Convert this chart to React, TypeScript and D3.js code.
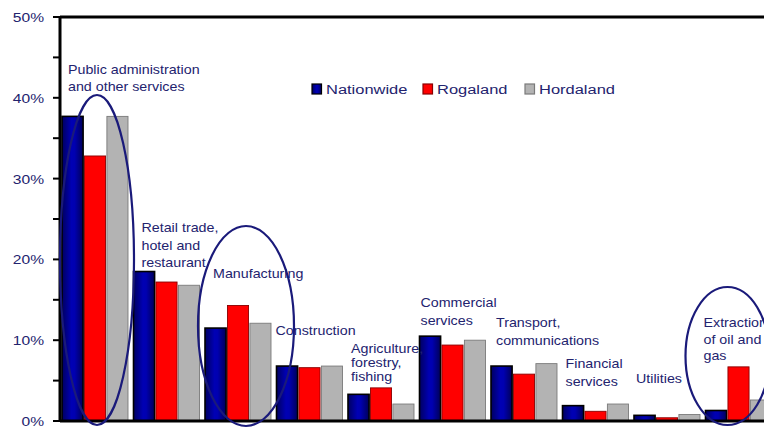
import React from "react";
import * as d3 from "d3";

const categories = [
  "Public administration and other services",
  "Retail trade, hotel and restaurant",
  "Manufacturing",
  "Construction",
  "Agriculture, forestry, fishing",
  "Commercial services",
  "Transport, communications",
  "Financial services",
  "Utilities",
  "Extraction of oil and gas",
];
const seriesNames = ["Nationwide", "Rogaland", "Hordaland"];
const nationwide = [37.7, 18.5, 11.5, 6.8, 3.3, 10.5, 6.8, 1.9, 0.7, 1.3];
const rogaland = [32.8, 17.2, 14.3, 6.6, 4.1, 9.4, 5.8, 1.2, 0.4, 6.7];
const hordaland = [37.7, 16.8, 12.1, 6.8, 2.1, 10.0, 7.1, 2.1, 0.8, 2.6];
const yTicks = [0, 10, 20, 30, 40, 50];
const yMinorTicks = [0, 5, 10, 15, 20, 25, 30, 35, 40, 45, 50];

// category label lines (text)
const labelLines = [
  ["Public administration", "and other services"],
  ["Retail trade,", "hotel and", "restaurant"],
  ["Manufacturing"],
  ["Construction"],
  ["Agriculture,", "forestry,", "fishing"],
  ["Commercial", "services"],
  ["Transport,", "communications"],
  ["Financial", "services"],
  ["Utilities"],
  ["Extraction", "of oil and", "gas"],
];
// label layout: dx from group start, first baseline y, line gap
const labelLayout = [
  { dx: 6, y: 74, gap: 17 },
  { dx: 8, y: 232, gap: 17.5 },
  { dx: 8, y: 278, gap: 17 },
  { dx: -1, y: 335, gap: 17 },
  { dx: 3, y: 353, gap: 14 },
  { dx: 1, y: 307, gap: 18 },
  { dx: 5, y: 327, gap: 18 },
  { dx: 3, y: 368, gap: 18 },
  { dx: 2, y: 383, gap: 17 },
  { dx: -2, y: 327, gap: 16.5 },
];
const circled = [
  { idx: 0, dx: 35, cy: 260, rx: 37, ry: 165 },
  { idx: 2, dx: 41, cy: 326, rx: 48, ry: 100 },
  { idx: 9, dx: 22, cy: 356, rx: 42, ry: 69 },
];

const colors = ["url(#navyGrad)", "#ff0000", "#b3b3b3"];
const strokes = ["#000000", "#8a0000", "#7a7a7a"];
const textColor = "#23236e";
const font = "'Liberation Sans', Arial, sans-serif";

export default function App() {
  const W = 764;
  const H = 433;
  const axisX = 60;
  const y = d3.scaleLinear().domain([0, 50]).range([421, 17]);
  const x0 = d3.scaleBand<string>().domain(categories).range([62, 62 + 71.5 * 10]).padding(0);
  const x1 = d3.scaleBand<string>().domain(seriesNames).range([0, 66]).paddingInner(0.06);
  const data = [nationwide, rogaland, hordaland];

  return (
    <svg width={W} height={H} style={{ position: "absolute", left: 0, top: 0, background: "#fff" }}>
      <defs>
        <linearGradient id="navyGrad" x1="0" x2="1" y1="0" y2="0">
          <stop offset="0" stopColor="#000060" />
          <stop offset="0.45" stopColor="#0000b4" />
          <stop offset="0.6" stopColor="#0000b0" />
          <stop offset="1" stopColor="#000058" />
        </linearGradient>
      </defs>
      {/* bars */}
      {categories.map((c, i) => (
        <g key={c}>
          {seriesNames.map((s, j) => {
            const v = data[j][i];
            return (
              <rect
                key={s}
                x={(x0(c) as number) + (x1(s) as number)}
                y={y(v)}
                width={x1.bandwidth()}
                height={y(0) - y(v)}
                fill={colors[j]}
                stroke={strokes[j]}
                strokeWidth={j === 0 ? 1.6 : 0.9}
              />
            );
          })}
        </g>
      ))}
      {/* axes */}
      <line x1={axisX} x2={W} y1={y(50)} y2={y(50)} stroke="#000" strokeWidth={3} />
      <line x1={axisX} x2={W} y1={y(0)} y2={y(0)} stroke="#000" strokeWidth={3} />
      <line x1={axisX} x2={axisX} y1={y(50) - 1} y2={y(0) + 1} stroke="#000" strokeWidth={3} />
      {yMinorTicks.map((t) => (
        <line key={t} x1={axisX - 7} x2={axisX} y1={y(t)} y2={y(t)} stroke="#000" strokeWidth={2} />
      ))}
      {yTicks.map((t) => (
        <text
          key={t}
          transform={`translate(44,${y(t) + 5}) scale(1.2,1)`}
          textAnchor="end"
          fontFamily={font}
          fontSize={13}
          fill={textColor}
        >
          {t}%
        </text>
      ))}
      {/* category labels */}
      {categories.map((c, i) => (
        <g key={"l" + c}>
          {labelLines[i].map((ln, k) => (
            <text
              key={k}
              transform={`translate(${(x0(c) as number) + labelLayout[i].dx},${labelLayout[i].y + k * labelLayout[i].gap}) scale(1.19,1)`}
              fontFamily={font}
              fontSize={12}
              fill={textColor}
            >
              {ln}
            </text>
          ))}
        </g>
      ))}
      {/* ellipses */}
      {circled.map((e) => (
        <ellipse
          key={e.idx}
          cx={(x0(categories[e.idx]) as number) + e.dx}
          cy={e.cy}
          rx={e.rx}
          ry={e.ry}
          fill="none"
          stroke="#1a1a7a"
          strokeWidth={2.2}
        />
      ))}
      {/* legend */}
      {seriesNames.map((s, j) => {
        const lx = [312, 423, 525][j];
        return (
          <g key={"lg" + s}>
            <rect x={lx} y={84} width={9.5} height={10} fill={colors[j]} stroke={j === 0 ? "#000" : strokes[j]} strokeWidth={1.2} />
            <text
              transform={`translate(${lx + 14},${94}) scale(1.22,1)`}
              fontFamily={font}
              fontSize={13.5}
              fill={textColor}
            >
              {s}
            </text>
          </g>
        );
      })}
    </svg>
  );
}
